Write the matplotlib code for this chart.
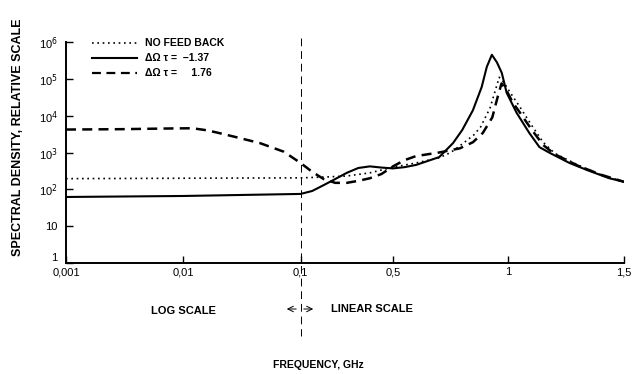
import numpy as np
import matplotlib
matplotlib.use('Agg')
import matplotlib.pyplot as plt
from matplotlib.lines import Line2D
from matplotlib.transforms import ScaledTranslation

plt.rcParams['font.family'] = ['Liberation Sans', 'DejaVu Sans']

# Spectral density vs frequency (GHz)
freq_nofb = [0.001, 0.01, 0.1, 0.15, 0.2, 0.3, 0.4, 0.5, 0.6, 0.7, 0.75, 0.8,
             0.85, 0.88, 0.9, 0.92, 0.94, 0.96, 0.98, 1.0, 1.05, 1.1, 1.15,
             1.2, 1.3, 1.4, 1.5]
spec_nofb = [195, 200, 205, 210, 215, 230, 280, 400, 520, 720, 1000, 1700,
             3000, 5000, 9000, 16000, 42000, 110000, 80000, 50000, 17000,
             5500, 1900, 950, 460, 250, 160]

freq_neg = [0.001, 0.01, 0.1, 0.15, 0.2, 0.25, 0.3, 0.35, 0.4, 0.45, 0.5,
            0.55, 0.6, 0.7, 0.76, 0.8, 0.846, 0.884, 0.906, 0.928, 0.95,
            0.971, 0.992, 1.035, 1.09, 1.134, 1.178, 1.264, 1.337, 1.436, 1.5]
spec_neg = [62, 66, 75, 90, 130, 190, 280, 380, 420, 390, 370, 400, 460, 750,
            1800, 4100, 14000, 60000, 210000, 450000, 280000, 145000, 42000,
            12000, 3400, 1400, 980, 520, 340, 200, 160]

freq_pos = [0.001, 0.003, 0.008, 0.012, 0.016, 0.02, 0.027, 0.045, 0.072, 0.1,
            0.15, 0.2, 0.25, 0.3, 0.35, 0.4, 0.45, 0.5, 0.55, 0.6, 0.7, 0.79,
            0.846, 0.889, 0.93, 0.953, 0.97, 0.99, 1.02, 1.05, 1.1, 1.15, 1.2,
            1.3, 1.4, 1.5]
spec_pos = [4200, 4300, 4500, 4550, 4000, 3400, 2700, 1800, 1050, 520, 300,
            190, 150, 150, 170, 200, 260, 420, 620, 800, 1000, 1300, 1900,
            3400, 9000, 32000, 75000, 50000, 22000, 12000, 4200, 1600, 900,
            440, 250, 160]

xtick_vals = [0.001, 0.01, 0.1, 0.5, 1, 1.5]
xtick_labels = ['0,001', '0,01', '0,1', '0,5', '1', '1,5']
ytick_vals = [1, 10, 1e2, 1e3, 1e4, 1e5, 1e6]
ytick_labels = ['1', '10', '10$^2$', '10$^3$', '10$^4$', '10$^5$', '10$^6$']

# log scale below 0.1 GHz, linear above
K = 1.97


def forward(x):
    x = np.asarray(x, dtype=float)
    lg = np.log10(np.maximum(x, 1e-12) / 0.001)
    return np.where(x <= 0.1, lg, 2 + (x - 0.1) * K)


def inverse(u):
    u = np.asarray(u, dtype=float)
    return np.where(u <= 2, 0.001 * 10 ** np.minimum(u, 2), 0.1 + (u - 2) / K)


W, H = 636, 374
fig = plt.figure(figsize=(W / 100, H / 100), dpi=100)
ax = fig.add_axes([66 / W, 1 - 263 / H, (624 - 66) / W, (263 - 42) / H])

ax.plot(freq_nofb, spec_nofb, color='black', lw=1.2, linestyle=(0, (1, 2.2)))
ax.plot(freq_neg, spec_neg, color='black', lw=1.5, linestyle='-')
ax.plot(freq_pos, spec_pos, color='black', lw=1.8, linestyle=(0, (4, 2.5)))

ax.set_xscale('function', functions=(forward, inverse))
ax.set_yscale('log')
ax.set_xlim(0.001, 1.5)
ax.set_ylim(1, 1e6)

ax.set_xticks(xtick_vals)
ax.set_xticklabels(xtick_labels)
ax.set_yticks(ytick_vals)
ax.set_yticklabels(ytick_labels)
ax.minorticks_off()
ax.tick_params(axis='both', direction='in', length=5, width=1.0,
               labelsize=8, colors='black')
ax.tick_params(axis='x', pad=3)
ax.tick_params(axis='y', pad=6)

# lift the "1" label a little, as in the original
lbl = ax.get_yticklabels()[0]
lbl.set_transform(lbl.get_transform() +
                  ScaledTranslation(0, 4 / 72, fig.dpi_scale_trans))

for s in ['top', 'right']:
    ax.spines[s].set_visible(False)
for s in ['left', 'bottom']:
    ax.spines[s].set_linewidth(1.4)

# dashed separator between log and linear parts
trans = ax.get_xaxis_transform()
ax.plot([0.1, 0.1], [1.02, -0.33], transform=trans, color='black', lw=0.7,
        linestyle=(0, (8, 5)), clip_on=False)

# legend drawn by hand
rows = [(43, (0, (1, 2.2)), 1.2, 'NO FEED BACK'),
        (58, '-', 1.5, '\u0394\u03a9 \u03c4 =  \u22121.37'),
        (73, (0, (4, 2.5)), 1.6, '\u0394\u03a9 \u03c4 =     1.76')]
for y, ls, lw, label in rows:
    fig.add_artist(Line2D([92 / W, 137 / W], [1 - y / H, 1 - y / H],
                          color='black', lw=lw, linestyle=ls))
    fig.text(145 / W, 1 - y / H, label, fontsize=7.5, fontweight='bold',
             va='center', ha='left')

# scale annotations
fig.text(183 / W, 1 - 311 / H, 'LOG SCALE', fontsize=8, fontweight='bold',
         ha='center', va='center')
fig.text(372 / W, 1 - 309 / H, 'LINEAR SCALE', fontsize=8, fontweight='bold',
         ha='center', va='center')
ax.annotate('', xy=(284 / W, 1 - 309 / H), xytext=(299 / W, 1 - 309 / H),
            xycoords='figure fraction', textcoords='figure fraction',
            arrowprops=dict(arrowstyle='->', lw=0.7, color='black'))
ax.annotate('', xy=(316 / W, 1 - 309 / H), xytext=(301 / W, 1 - 309 / H),
            xycoords='figure fraction', textcoords='figure fraction',
            arrowprops=dict(arrowstyle='->', lw=0.7, color='black'))

fig.text(318 / W, 1 - 365 / H, 'FREQUENCY, GHz', fontsize=7.5,
         fontweight='bold', ha='center', va='center')
fig.text(18 / W, 1 - 137 / H, 'SPECTRAL DENSITY, RELATIVE SCALE', fontsize=9,
         fontweight='bold', rotation=90, ha='center', va='center')

fig.savefig('out.png', dpi=100)
